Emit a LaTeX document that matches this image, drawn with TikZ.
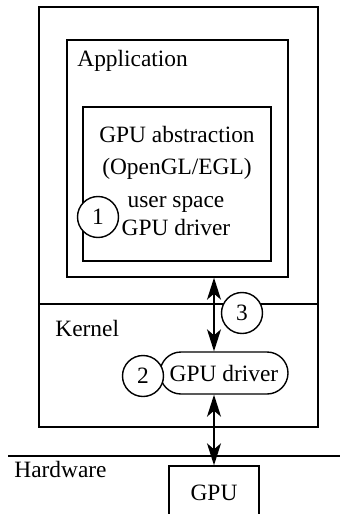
\documentclass[tikz,border=0pt]{standalone}
\usepackage{fontspec}
\setmainfont{Liberation Serif}
\usetikzlibrary{arrows.meta}

\begin{document}
\begin{tikzpicture}[x=.5pt,y=-.5pt,line width=.7pt,
  every node/.style={font=\rmfamily\fontsize{11.7}{14}\selectfont},
  box/.style={draw,inner sep=0pt},
  num/.style={draw,circle,fill=white,minimum size=20.5pt,inner sep=0pt},
  biarr/.style={{Stealth[length=11pt,width=7pt,inset=3pt]}-{Stealth[length=11pt,width=7pt,inset=3pt]}}]
\useasboundingbox (0,0) rectangle (340,514);
% user space and kernel
\node[box,minimum width=139.5pt,minimum height=210pt] (os) at (178.5,217) {};
\node[box,minimum width=110.5pt,minimum height=118.5pt] (app) at (177.5,158.5) {};
\node[box,minimum width=94pt,minimum height=77pt] (gl) at (177,184) {};
\node[anchor=west] (applbl) at (70,61) {Application};
\node[align=center,font=\rmfamily\fontsize{11.7}{16}\selectfont] (gltxt) at (177,153) {GPU abstraction\\(OpenGL/EGL)};
\node[align=center] (udrv) at (176,216) {user space\\GPU driver};
\node[num] (n1) at (98,217) {1};
\draw (os.west |- 0,304) -- (os.east |- 0,304);
\node[anchor=west] (kernel) at (48,328) {Kernel};
\node[draw,rounded corners=10.5pt,minimum width=64pt,minimum height=21pt,inner sep=1pt] (kdrv) at (224,373) {GPU driver};
\node[num] (n2) at (143,376) {2};
% hardware
\draw (8,456) -- (340,456);
\node[anchor=west] (hw) at (7,469) {Hardware};
\node[box,minimum width=45pt,minimum height=27pt] (gpu) at (214,493) {GPU};
% arrows
\draw[biarr] (app.south -| gpu.north) -- (kdrv.north -| gpu.north);
\draw[biarr] (kdrv.south -| gpu.north) -- (gpu.north);
\node[num] (n3) at (242,313) {3};
\end{tikzpicture}
\end{document}
